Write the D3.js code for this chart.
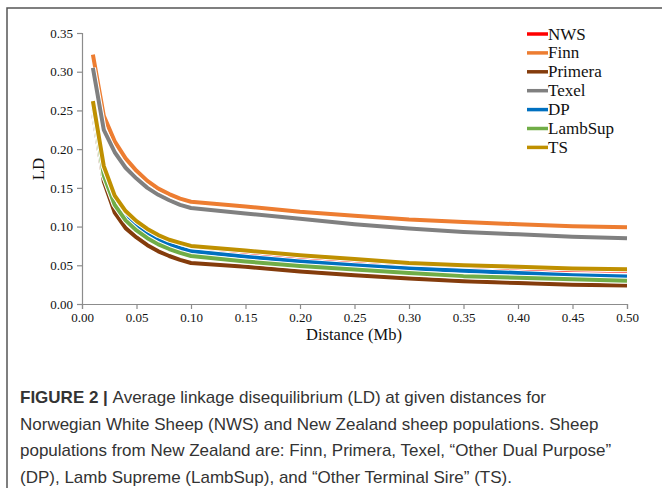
<!DOCTYPE html>
<html>
<head>
<meta charset="utf-8">
<script src="https://cdn.jsdelivr.net/npm/d3@7"></script>
<style>
  body { margin: 0; background: #fff; }
  svg { display: block; }
</style>
</head>
<body>
<svg id="chart" width="662" height="488"></svg>
<script>
// distances (Mb)
var distances = [0.01, 0.02, 0.03, 0.04, 0.05, 0.06, 0.07, 0.08, 0.09, 0.10,
	0.15, 0.20, 0.25, 0.30, 0.35, 0.40, 0.45, 0.50];

var nws     = [0.250, 0.170, 0.134, 0.115, 0.102, 0.093, 0.085, 0.079, 0.075, 0.071, 0.065, 0.059, 0.054, 0.050, 0.047, 0.045, 0.044, 0.043];
var finn    = [0.322, 0.243, 0.210, 0.188, 0.172, 0.159, 0.149, 0.142, 0.136, 0.132, 0.126, 0.119, 0.114, 0.109, 0.106, 0.103, 0.1005, 0.099];
var primera = [0.248, 0.158, 0.118, 0.098, 0.086, 0.076, 0.068, 0.062, 0.057, 0.053, 0.048, 0.042, 0.037, 0.033, 0.0295, 0.027, 0.025, 0.024];
var texel   = [0.305, 0.225, 0.196, 0.176, 0.162, 0.150, 0.141, 0.134, 0.128, 0.124, 0.117, 0.110, 0.103, 0.0975, 0.093, 0.090, 0.087, 0.085];
var dp      = [0.255, 0.168, 0.132, 0.113, 0.100, 0.091, 0.083, 0.077, 0.072, 0.068, 0.061, 0.055, 0.050, 0.046, 0.043, 0.040, 0.037, 0.0355];
var lambsup = [0.258, 0.166, 0.128, 0.108, 0.095, 0.085, 0.077, 0.071, 0.066, 0.062, 0.055, 0.049, 0.0445, 0.040, 0.036, 0.034, 0.032, 0.030];
var ts      = [0.262, 0.178, 0.140, 0.120, 0.107, 0.097, 0.089, 0.083, 0.079, 0.075, 0.069, 0.063, 0.058, 0.053, 0.050, 0.048, 0.046, 0.045];

var seriesNames = ['NWS', 'Finn', 'Primera', 'Texel', 'DP', 'LambSup', 'TS'];
var seriesValues = [nws, finn, primera, texel, dp, lambsup, ts];
var seriesColors = ['#ff0000', '#ed7d31', '#843c0c', '#808080', '#0070c0', '#70ad47', '#bf9000'];

var xTicks = [0, 0.05, 0.10, 0.15, 0.20, 0.25, 0.30, 0.35, 0.40, 0.45, 0.50];
var yTicks = [0, 0.05, 0.10, 0.15, 0.20, 0.25, 0.30, 0.35];

var captionLines = [
	'Norwegian White Sheep (NWS) and New Zealand sheep populations. Sheep',
	'populations from New Zealand are: Finn, Primera, Texel, \u201cOther Dual Purpose\u201d',
	'(DP), Lamb Supreme (LambSup), and \u201cOther Terminal Sire\u201d (TS).'
];

var svg = d3.select('#chart');

// frame
svg.append('rect')
	.attr('x', 7).attr('y', 8).attr('width', 700).attr('height', 520)
	.style('fill', 'none').style('stroke', '#555').style('stroke-width', 1.5);

var x = d3.scaleLinear().domain([0, 0.5]).range([82, 627]),
	y = d3.scaleLinear().domain([0, 0.35]).range([304, 33]);

var serif = '"Liberation Serif", "Times New Roman", serif';

var xAxis = svg.append('g').attr('transform', 'translate(0,304)')
	.call(d3.axisBottom(x).tickValues(xTicks).tickSize(5).tickPadding(4).tickFormat(d3.format('.2f')));
var yAxis = svg.append('g').attr('transform', 'translate(82,0)')
	.call(d3.axisLeft(y).tickValues(yTicks).tickSize(5).tickPadding(4).tickFormat(d3.format('.2f')));

[xAxis, yAxis].forEach(function (ax) {
	ax.attr('font-family', null).attr('font-size', null);
	ax.select('.domain').style('stroke', '#8c8c8c').style('stroke-width', 1.2);
	ax.selectAll('.tick line').style('stroke', '#8c8c8c').style('stroke-width', 1.2);
	ax.selectAll('.tick text').style('font-family', serif).style('font-size', '13px').style('fill', '#111');
});

svg.append('text')
	.attr('x', 354).attr('y', 340)
	.attr('text-anchor', 'middle')
	.style('font-family', serif).style('font-size', '16.5px').style('fill', '#111')
	.text('Distance (Mb)');

svg.append('text')
	.attr('transform', 'translate(44,169) rotate(-90)')
	.attr('text-anchor', 'middle')
	.style('font-family', serif).style('font-size', '17px').style('fill', '#111')
	.text('LD');

var line = d3.line()
	.x(function (d, i) { return x(distances[i]); })
	.y(function (d) { return y(d); });

var lines = svg.append('g');
seriesValues.forEach(function (vals, idx) {
	lines.append('path').datum(vals)
		.attr('d', line)
		.style('fill', 'none').style('stroke', '#fff').style('stroke-width', 6)
		.style('stroke-linejoin', 'round');
	lines.append('path').datum(vals)
		.attr('d', line)
		.style('fill', 'none').style('stroke', seriesColors[idx]).style('stroke-width', 4)
		.style('stroke-linejoin', 'round');
});

// legend
var legend = svg.append('g').attr('transform', 'translate(527,34)');
seriesNames.forEach(function (name, idx) {
	var row = legend.append('g').attr('transform', 'translate(0,' + idx * 18.9 + ')');
	row.append('line')
		.attr('x1', 0).attr('x2', 21).attr('y1', 0).attr('y2', 0)
		.style('stroke', seriesColors[idx]).style('stroke-width', 3.5);
	row.append('text')
		.attr('x', 21).attr('y', 5.5)
		.style('font-family', serif).style('font-size', '17px').style('fill', '#111')
		.text(name);
});

// caption
var sans = '"Liberation Sans", Arial, sans-serif';
var cap = svg.append('g').style('font-family', sans).style('font-size', '17px').style('fill', '#333');
var first = cap.append('text').attr('x', 20).attr('y', 403);
first.append('tspan').style('font-weight', 'bold').text('FIGURE 2 | ');
first.append('tspan').text('Average linkage disequilibrium (LD) at given distances for');
captionLines.forEach(function (t, i) {
	cap.append('text').attr('x', 20).attr('y', 429.5 + i * 26.5).text(t);
});
</script>
</body>
</html>
